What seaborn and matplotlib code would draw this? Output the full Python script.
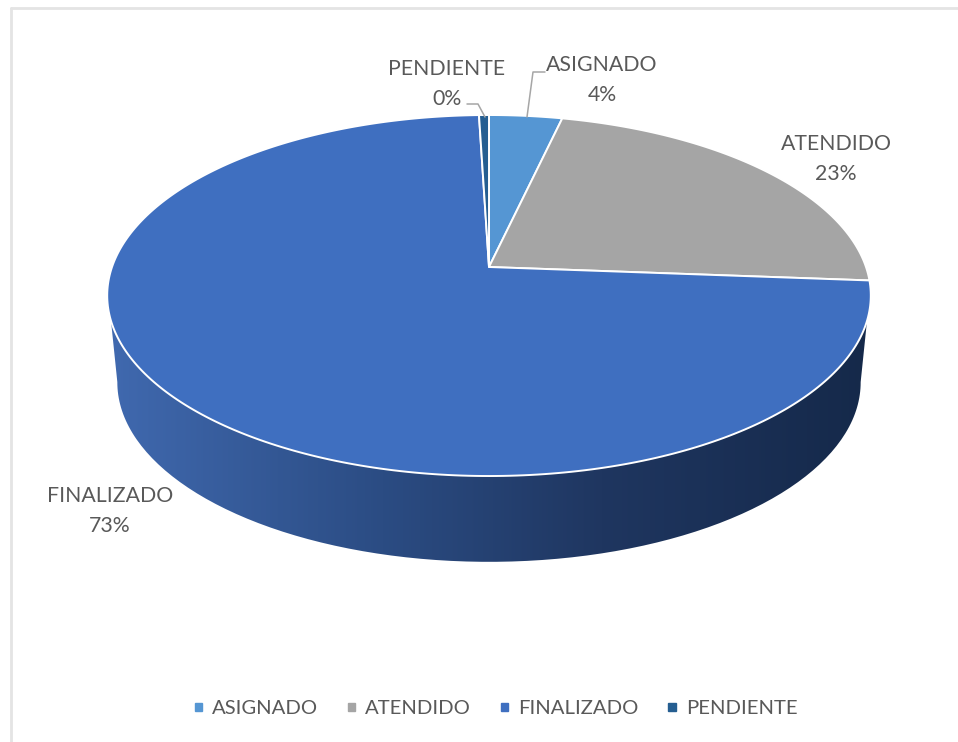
import numpy as np
import matplotlib
matplotlib.use("Agg")
import matplotlib.pyplot as plt
from matplotlib.colors import LinearSegmentedColormap
from matplotlib.patches import Patch, PathPatch
from matplotlib.path import Path
import seaborn as sns

# Data
estados = ["ASIGNADO", "ATENDIDO", "FINALIZADO", "PENDIENTE"]
valores = [3.6, 22.6, 73.3, 0.49]
colores = ["#5596D3", "#A5A5A5", "#3F6FC0", "#255E91"]

sns.set_theme(style="white")
plt.rcParams["font.family"] = ["Lato", "DejaVu Sans"]
TEXT = "#595959"


def proyectar(x, y, cx=489, cy=267, k=377, a=176, c=0.158):
    # unit circle -> tilted disc in pixel coordinates
    w = 1 + c * y
    return cx + k * x / w, cy - a * y / w


fig = plt.figure(figsize=(9.58, 7.42), dpi=100)
ax = fig.add_axes([0, 0, 1, 1])

# pie gives the slice angles, then they get re-drawn in perspective
wedges, _ = ax.pie(valores, startangle=90, counterclock=False, colors=colores)
ax.set_aspect("auto")
ax.set_axis_off()

# side of the disc: lower rim plus the two points where it leaves the top disc
low_t = np.radians(np.arange(189, 352))
lx, ly = proyectar(np.cos(low_t), np.sin(low_t), cy=354, k=367, a=175)
up_t = np.radians([343, 197])
ux, uy = proyectar(np.cos(up_t), np.sin(up_t))
borde = Path(np.column_stack([np.r_[lx, ux], np.r_[ly, uy]]))
clip = PathPatch(borde, fc="none", ec="none", transform=ax.transData)
ax.add_patch(clip)
cmap = LinearSegmentedColormap.from_list(
    "lado", [(0, "#4069AF"), (0.36, "#2B4C83"), (0.65, "#1F3660"), (1, "#15294A")]
)
grad = ax.imshow(
    np.linspace(0, 1, 400)[None, :], cmap=cmap, extent=(108, 870, 570, 290), aspect="auto", zorder=1
)
grad.set_clip_path(clip)
ax.set_xlim(0, 958)
ax.set_ylim(742, 0)

for w, col in zip(wedges, colores):
    ang = np.radians(np.linspace(w.theta1, w.theta2, 300))
    px, py = proyectar(np.r_[0, np.cos(ang)], np.r_[0, np.sin(ang)])
    ax.fill(px, py, color=col, ec="white", lw=1.4, zorder=3, joinstyle="round")
    w.remove()

# Labels
etiquetas = [f"{e}\n{round(v)}%" for e, v in zip(estados, valores)]
pos = [(602, 80), (836, 159), (110, 511), (447, 84)]
for txt, (x, y) in zip(etiquetas, pos):
    ax.text(x, y, txt, ha="center", va="center", fontsize=15.3, color=TEXT, linespacing=1.6)

# Leader lines
ax.plot([545, 533, 527], [72, 72, 117], color="#A6A6A6", lw=1.1, zorder=4)
ax.plot([467, 478, 485], [104, 104, 117], color="#A6A6A6", lw=1.1, zorder=4)

# Frame
ax.plot([11, 11], [8, 742], color="#E4E4E4", lw=2, zorder=0)
ax.plot([11, 958], [8, 8], color="#E4E4E4", lw=2, zorder=0)

handles = [Patch(color=c) for c in colores]
ax.legend(
    handles, estados, ncol=4, loc="center", bbox_to_anchor=(496 / 958, 1 - 709 / 742),
    frameon=False, fontsize=14.6, labelcolor=TEXT, handlelength=0.37, handleheight=0.19,
    handletextpad=0.5, columnspacing=1.45,
)

fig.savefig("out.png", dpi=100)
